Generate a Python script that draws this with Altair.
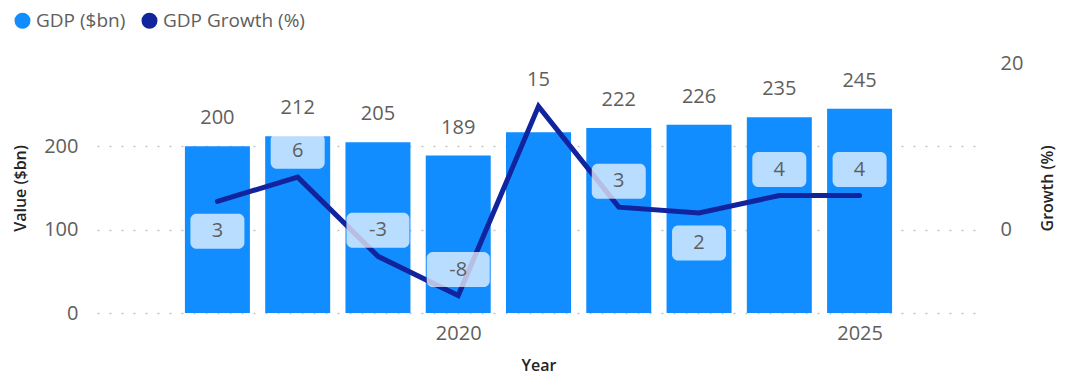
import altair as alt
import pandas as pd

years = [2017, 2018, 2019, 2020, 2021, 2022, 2023, 2024, 2025]
gdp = [200, 212, 205, 189, 217, 222, 226, 235, 245]
growth = [3.4, 6.3, -3.2, -7.9, 14.8, 2.7, 2.0, 4.1, 4.1]

series_names = ["GDP ($bn)", "GDP Growth (%)"]
series_colors = ["#118DFF", "#12239E"]

df = pd.DataFrame({"Year": years, "GDP": gdp, "Growth": growth})

W, H = 883, 250
X_DOMAIN = [2015.5, 2026.5]
Y1_DOMAIN = [0, 300]
Y2_DOMAIN = [-10, 20]
PX_YEAR = W / (X_DOMAIN[1] - X_DOMAIN[0])
PX_PCT = H / (Y2_DOMAIN[1] - Y2_DOMAIN[0])

FONT = "Open Sans"
LABEL_COLOR = "#605E5C"
TITLE_COLOR = "#252423"
TITLE_WEIGHT = 600

base = alt.Chart(df)

x_enc = alt.X(
    "x0:Q",
    scale=alt.Scale(domain=X_DOMAIN, nice=False, zero=False),
    axis=alt.Axis(
        title="Year", values=[2020, 2025], format="d", grid=False, domain=False,
        ticks=False, tickSize=0, labelPadding=10, labelFontSize=20, labelColor=LABEL_COLOR,
        labelFont=FONT, titleFont=FONT, titleFontSize=16, titleFontWeight=TITLE_WEIGHT,
        titleColor=TITLE_COLOR, titleY=52, titleBaseline="middle",
    ),
)

y1_scale = alt.Scale(domain=Y1_DOMAIN, nice=False)
y2_scale = alt.Scale(domain=Y2_DOMAIN, nice=False)

bars = base.transform_calculate(
    x0=f"datum.Year - {65 / 2 / PX_YEAR}", x1=f"datum.Year + {65 / 2 / PX_YEAR}",
    series=f"'{series_names[0]}'",
).mark_rect().encode(
    x=x_enc,
    x2="x1:Q",
    y=alt.Y(
        "GDP:Q", scale=y1_scale,
        axis=alt.Axis(
            title="Value ($bn)", values=[0, 100, 200], grid=True, domain=False, ticks=False,
            tickSize=0, labelPadding=19, labelFontSize=20, labelColor=LABEL_COLOR, labelFont=FONT,
            gridColor="#C8C6C4", gridDash=[2, 10], gridWidth=1.3,
            titleFont=FONT, titleFontSize=16, titleFontWeight=TITLE_WEIGHT, titleColor=TITLE_COLOR,
            titleX=-77, titleBaseline="middle",
        ),
    ),
    y2=alt.datum(0),
    color=alt.Color(
        "series:N",
        scale=alt.Scale(domain=series_names, range=series_colors),
        legend=alt.Legend(
            title=None, orient="none", direction="horizontal", legendX=-84, legendY=-52,
            symbolType="circle", symbolSize=254, symbolStrokeWidth=0, symbolOpacity=1,
            labelFontSize=19, labelFont=FONT, labelColor=LABEL_COLOR, labelOffset=4,
            columnPadding=14, padding=0,
        ),
    ),
)

bar_labels = base.transform_filter("datum.Year != 2021").transform_calculate(
    x0="datum.Year"
).mark_text(
    dy=-28, baseline="middle", fontSize=20, font=FONT, color=LABEL_COLOR
).encode(
    x=alt.X("x0:Q", scale=alt.Scale(domain=X_DOMAIN, nice=False, zero=False)),
    y=alt.Y("GDP:Q", scale=y1_scale),
    text=alt.Text("GDP:Q", format="d"),
)

left = alt.layer(bars, bar_labels)

line = base.transform_calculate(x0="datum.Year").mark_line(
    color=series_colors[1], strokeWidth=5, strokeCap="round"
).encode(
    x=alt.X("x0:Q", scale=alt.Scale(domain=X_DOMAIN, nice=False, zero=False)),
    y=alt.Y(
        "Growth:Q", scale=y2_scale,
        axis=alt.Axis(
            title="Growth (%)", orient="right", values=[0, 20], grid=False, domain=False,
            ticks=False, tickSize=0, labelPadding=20, labelFontSize=20, labelColor=LABEL_COLOR,
            labelFont=FONT, titleFont=FONT, titleFontSize=16, titleFontWeight=TITLE_WEIGHT,
            titleColor=TITLE_COLOR, titleAngle=270, titleX=67, titleBaseline="middle",
        ),
    ),
)

label_calc = dict(
    x0="datum.Year",
    label="toString(round(datum.Growth))",
    off="(datum.Year == 2017 || datum.Year == 2023) ? -30 : 26",
    cy=f"datum.Growth + datum.off / {PX_PCT}",
    bw=f"(45 + 9 * length(datum.label)) / 2 / {PX_YEAR}",
    bx0="datum.Year - datum.bw",
    bx1="datum.Year + datum.bw",
    by0=f"datum.cy - 17.5 / {PX_PCT}",
    by1=f"datum.cy + 17.5 / {PX_PCT}",
)

boxes = base.transform_calculate(**label_calc).mark_rect(
    color="white", opacity=0.7, cornerRadius=6
).encode(
    x=alt.X("bx0:Q", scale=alt.Scale(domain=X_DOMAIN, nice=False, zero=False)),
    x2="bx1:Q",
    y=alt.Y("by0:Q", scale=y2_scale),
    y2="by1:Q",
)

line_labels = base.transform_calculate(**label_calc).mark_text(
    baseline="middle", fontSize=20, font=FONT, color=LABEL_COLOR
).encode(
    x=alt.X("x0:Q", scale=alt.Scale(domain=X_DOMAIN, nice=False, zero=False)),
    y=alt.Y("cy:Q", scale=y2_scale),
    text="label:N",
)

right = alt.layer(line, boxes, line_labels)

chart = alt.layer(left, right).resolve_scale(y="independent").properties(
    width=W, height=H, autosize=alt.AutoSizeParams(type="none"),
    padding={"left": 89, "top": 55, "right": 83, "bottom": 64},
    background="white",
).configure_view(stroke="transparent", strokeWidth=0)

chart.save("out.html", embed_options={"renderer": "svg", "actions": False})
